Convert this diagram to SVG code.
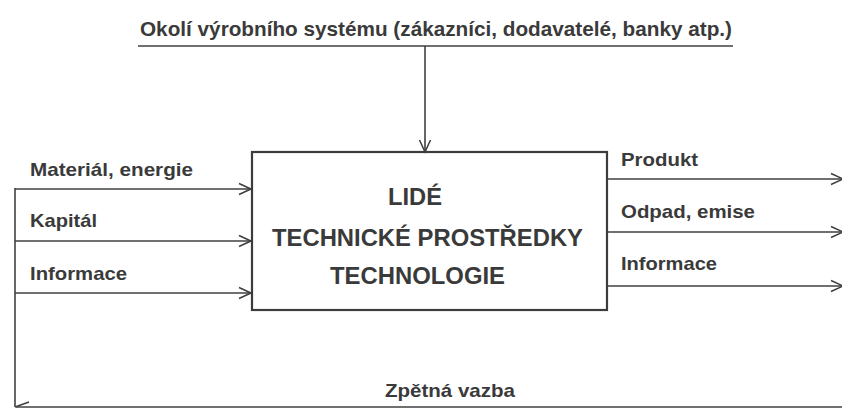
<svg xmlns="http://www.w3.org/2000/svg" width="842" height="409" viewBox="0 0 842 409">
<defs>
<marker id="arr" markerUnits="userSpaceOnUse" markerWidth="16" markerHeight="14" refX="13" refY="7" orient="auto">
<path d="M1,1.5 L13,7 L1,12.5" fill="none" stroke="#3c3c3c" stroke-width="1.5"/>
</marker>
<style>
.t{font-family:"Liberation Sans",Arial,sans-serif;font-weight:bold;fill:#3a3a3a;}
.lbl{font-size:19px;}
.box{font-size:23px;}
.ln{stroke:#404040;stroke-width:1.6;fill:none;}
</style>
</defs>
<rect width="842" height="409" fill="#ffffff"/>
<g id="environment">
<text class="t" x="140" y="36" font-size="21" textLength="592" lengthAdjust="spacingAndGlyphs">Okolí výrobního systému (zákazníci, dodavatelé, banky atp.)</text>
<line class="ln" x1="138" y1="46" x2="733" y2="46" stroke-width="2"/>
</g>
<g id="system">
<rect x="252" y="152" width="355" height="158" fill="none" stroke="#3c3c3c" stroke-width="2.2"/>
<text class="t box" x="388" y="205" textLength="54" lengthAdjust="spacingAndGlyphs">LIDÉ</text>
<text class="t box" x="272" y="246" textLength="311" lengthAdjust="spacingAndGlyphs">TECHNICKÉ PROSTŘEDKY</text>
<text class="t box" x="330" y="284" textLength="175" lengthAdjust="spacingAndGlyphs">TECHNOLOGIE</text>
</g>
<g id="inputs">
<text class="t lbl" x="30" y="176" textLength="163" lengthAdjust="spacingAndGlyphs">Materiál, energie</text>
<text class="t lbl" x="30" y="227" textLength="67" lengthAdjust="spacingAndGlyphs">Kapitál</text>
<text class="t lbl" x="30" y="280" textLength="97" lengthAdjust="spacingAndGlyphs">Informace</text>
</g>
<g id="outputs">
<text class="t lbl" x="621" y="166" textLength="77" lengthAdjust="spacingAndGlyphs">Produkt</text>
<text class="t lbl" x="621" y="218" textLength="134" lengthAdjust="spacingAndGlyphs">Odpad, emise</text>
<text class="t lbl" x="621" y="270" textLength="96" lengthAdjust="spacingAndGlyphs">Informace</text>
</g>
<g id="feedback">
<text class="t" x="385" y="397" font-size="19" textLength="130" lengthAdjust="spacingAndGlyphs">Zpětná vazba</text>
</g>
<g id="connectors">
<line class="ln" x1="425" y1="46" x2="425" y2="152" marker-end="url(#arr)"/>
<line class="ln" x1="15" y1="189" x2="251" y2="189" marker-end="url(#arr)"/>
<line class="ln" x1="15" y1="241" x2="251" y2="241" marker-end="url(#arr)"/>
<line class="ln" x1="15" y1="293" x2="251" y2="293" marker-end="url(#arr)"/>
<line class="ln" x1="607" y1="179" x2="843" y2="179" marker-end="url(#arr)"/>
<line class="ln" x1="607" y1="232" x2="843" y2="232" marker-end="url(#arr)"/>
<line class="ln" x1="607" y1="286" x2="843" y2="286" marker-end="url(#arr)"/>
<line class="ln" x1="15" y1="188" x2="15" y2="407" stroke-width="2"/>
<line class="ln" x1="842" y1="407" x2="16" y2="407" stroke-width="1.2" stroke="#9a9a9a"/>
<path class="ln" d="M15,407 L29,402"/>
</g>
</svg>
